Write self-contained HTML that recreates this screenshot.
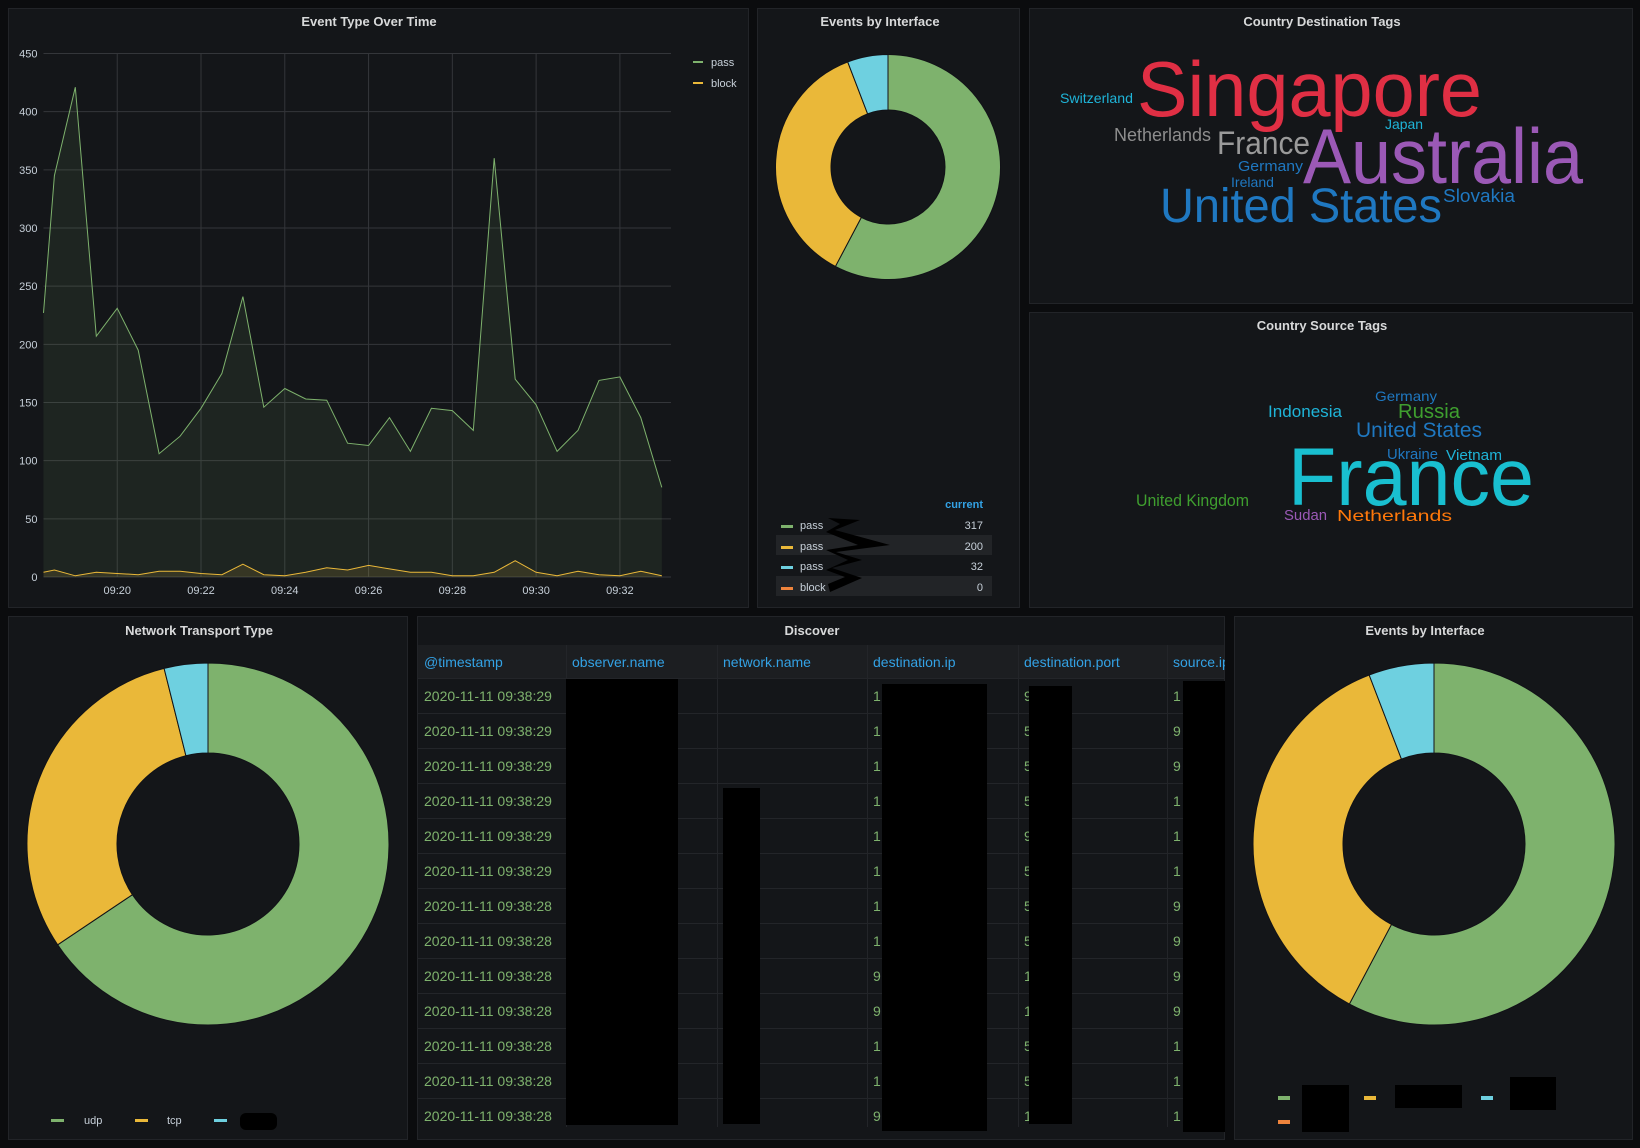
<!DOCTYPE html>
<html><head><meta charset="utf-8">
<style>
html,body{margin:0;padding:0;background:#0b0c0e;}
svg{display:block;font-family:"Liberation Sans",sans-serif;}
.ptitle{fill:#d8d9da;font-size:13px;font-weight:bold;text-anchor:middle;}
.tick{fill:#c7d0d9;font-size:11px;}
.th{fill:#33a2e5;font-size:14px;}
.td{fill:#7eb26d;font-size:14px;}
</style></head>
<body>
<svg id="root" width="1640" height="1148" viewBox="0 0 1640 1148" xmlns="http://www.w3.org/2000/svg">
  <rect x="0" y="0" width="1640" height="1148" fill="#0b0c0e"/>
  <rect x="8.5" y="8.5" width="740" height="599" fill="#141619" stroke="#222428"/>
  <rect x="757.5" y="8.5" width="262" height="599" fill="#141619" stroke="#222428"/>
  <rect x="1029.5" y="8.5" width="603" height="295" fill="#141619" stroke="#222428"/>
  <rect x="1029.5" y="312.5" width="603" height="295" fill="#141619" stroke="#222428"/>
  <rect x="8.5" y="616.5" width="399" height="523" fill="#141619" stroke="#222428"/>
  <rect x="417.5" y="616.5" width="807" height="523" fill="#141619" stroke="#222428"/>
  <rect x="1234.5" y="616.5" width="398" height="523" fill="#141619" stroke="#222428"/>

  <text class="ptitle" x="369" y="26">Event Type Over Time</text>
  <text class="ptitle" x="880" y="26">Events by Interface</text>
  <text class="ptitle" x="1322" y="26">Country Destination Tags</text>
  <text class="ptitle" x="1322" y="330">Country Source Tags</text>
  <text class="ptitle" x="199" y="635">Network Transport Type</text>
  <text class="ptitle" x="812" y="635">Discover</text>
  <text class="ptitle" x="1425" y="635">Events by Interface</text>

  <g id="linechart"></g>
  <g>
    <rect x="693" y="61" width="10" height="2" fill="#7eb26d"/>
    <text class="tick" x="711" y="66" font-size="12">pass</text>
    <rect x="693" y="82" width="10" height="2" fill="#eab839"/>
    <text class="tick" x="711" y="87" font-size="12">block</text>
  </g>

  <g id="donut1"></g>
  <g>
    <text x="983" y="508" fill="#33a2e5" font-size="11" font-weight="bold" text-anchor="end">current</text>
    <rect x="776" y="535" width="216" height="20" fill="#222427"/>
    <rect x="776" y="576" width="216" height="20" fill="#222427"/>
    <rect x="781" y="525" width="12" height="3" fill="#7eb26d"/><text class="tick" x="800" y="529" font-size="12">pass</text><text class="tick" x="983" y="529" font-size="12" text-anchor="end">317</text>
    <rect x="781" y="546" width="12" height="3" fill="#eab839"/><text class="tick" x="800" y="550" font-size="12">pass</text><text class="tick" x="983" y="550" font-size="12" text-anchor="end">200</text>
    <rect x="781" y="566" width="12" height="3" fill="#6ed0e0"/><text class="tick" x="800" y="570" font-size="12">pass</text><text class="tick" x="983" y="570" font-size="12" text-anchor="end">32</text>
    <rect x="781" y="587" width="12" height="3" fill="#ef843c"/><text class="tick" x="800" y="591" font-size="12">block</text><text class="tick" x="983" y="591" font-size="12" text-anchor="end">0</text>
    <path d="M828 518 L860 520 L835 530 L890 545 L836 552 L862 560 L832 568 L862 578 L830 592 L828 584 L845 577 L826 570 L848 560 L826 550 L858 545 L826 532 L840 524 Z" fill="#000"/>
  </g>

  <g>
    <text x="1060" y="103" font-size="14" fill="#1fb4d8" textLength="73" lengthAdjust="spacingAndGlyphs">Switzerland</text>
    <text x="1137" y="116" font-size="78" fill="#e02f44" textLength="345" lengthAdjust="spacingAndGlyphs">Singapore</text>
    <text x="1385" y="129" font-size="14" fill="#1fb4d8" textLength="38" lengthAdjust="spacingAndGlyphs">Japan</text>
    <text x="1114" y="141" font-size="18" fill="#8e8e8e" textLength="97" lengthAdjust="spacingAndGlyphs">Netherlands</text>
    <text x="1217" y="154" font-size="32" fill="#9a9a9a" textLength="93" lengthAdjust="spacingAndGlyphs">France</text>
    <text x="1303" y="183" font-size="78" fill="#9b59b6" textLength="280" lengthAdjust="spacingAndGlyphs">Australia</text>
    <text x="1238" y="171" font-size="15" fill="#1f78c1" textLength="65" lengthAdjust="spacingAndGlyphs">Germany</text>
    <text x="1231" y="187" font-size="14" fill="#1f78c1" textLength="43" lengthAdjust="spacingAndGlyphs">Ireland</text>
    <text x="1160" y="222" font-size="48" fill="#1f78c1" textLength="282" lengthAdjust="spacingAndGlyphs">United States</text>
    <text x="1443" y="202" font-size="18" fill="#1f78c1" textLength="72" lengthAdjust="spacingAndGlyphs">Slovakia</text>
  </g>
  <g>
    <text x="1375" y="401" font-size="14" fill="#1f78c1" textLength="62" lengthAdjust="spacingAndGlyphs">Germany</text>
    <text x="1268" y="417" font-size="17" fill="#1fb4d8" textLength="74" lengthAdjust="spacingAndGlyphs">Indonesia</text>
    <text x="1398" y="418" font-size="20" fill="#3f9f2f" textLength="62" lengthAdjust="spacingAndGlyphs">Russia</text>
    <text x="1356" y="437" font-size="21" fill="#1f78c1" textLength="126" lengthAdjust="spacingAndGlyphs">United States</text>
    <text x="1387" y="459" font-size="15" fill="#1f78c1" textLength="51" lengthAdjust="spacingAndGlyphs">Ukraine</text>
    <text x="1446" y="460" font-size="15" fill="#1fb4d8" textLength="56" lengthAdjust="spacingAndGlyphs">Vietnam</text>
    <text x="1288" y="505" font-size="82" fill="#19bfd0" textLength="246" lengthAdjust="spacingAndGlyphs">France</text>
    <text x="1136" y="506" font-size="17" fill="#3f9f2f" textLength="113" lengthAdjust="spacingAndGlyphs">United Kingdom</text>
    <text x="1284" y="520" font-size="15" fill="#9b59b6" textLength="43" lengthAdjust="spacingAndGlyphs">Sudan</text>
    <text x="1337" y="521" font-size="16" fill="#ff780a" textLength="115" lengthAdjust="spacingAndGlyphs">Netherlands</text>
  </g>

  <g id="donut2"></g>
  <g>
    <rect x="51" y="1119" width="13" height="3" fill="#7eb26d"/><text class="tick" x="84" y="1124" font-size="12">udp</text>
    <rect x="135" y="1119" width="13" height="3" fill="#eab839"/><text class="tick" x="167" y="1124" font-size="12">tcp</text>
    <rect x="214" y="1119" width="13" height="3" fill="#6ed0e0"/>
    <rect x="240" y="1113" width="37" height="17" rx="6" fill="#000"/>
  </g>

  <g id="donut3"></g>
  <g>
    <rect x="1278" y="1096" width="12" height="4" fill="#7eb26d"/>
    <rect x="1302" y="1085" width="47" height="47" fill="#000"/>
    <rect x="1364" y="1096" width="12" height="4" fill="#eab839"/>
    <rect x="1395" y="1085" width="67" height="23" fill="#000"/>
    <rect x="1481" y="1096" width="12" height="4" fill="#6ed0e0"/>
    <rect x="1510" y="1077" width="46" height="33" fill="#000"/>
    <rect x="1278" y="1120" width="12" height="4" fill="#ef843c"/>
  </g>

  <g id="table"></g>
</svg>
<script>
const times = [18.24,18.5,19,19.5,20,20.5,21,21.5,22,22.5,23,23.5,24,24.5,25,25.5,26,26.5,27,27.5,28,28.5,29,29.5,30,30.5,31,31.5,32,32.5,33];
const passValues = [227,345,421,207,231,195,106,121,145,175,241,146,162,153,152,115,113,137,108,145,143,126,360,170,148,108,126,169,172,137,77];
const blockValues = [4,6,1,4,3,2,5,5,3,2,11,2,1,4,8,6,10,7,4,4,1,1,4,14,4,1,5,2,1,5,1];
const yTicks = [0,50,100,150,200,250,300,350,400,450];
const xTickMinutes = [20,22,24,26,28,30,32];
const xTickLabels = ["09:20","09:22","09:24","09:26","09:28","09:30","09:32"];
const xDomain = [18.24,33.22];
const interfaceLabels = ["pass","pass","pass","block"];
const interfaceValues = [317,200,32,0];
const transportLabels = ["udp","tcp","other"];
const transportValues = [656,305,39];
const tableHeaders = ["@timestamp","observer.name","network.name","destination.ip","destination.port","source.ip"];
const tableTimestamps = ["2020-11-11 09:38:29","2020-11-11 09:38:29","2020-11-11 09:38:29","2020-11-11 09:38:29","2020-11-11 09:38:29","2020-11-11 09:38:29","2020-11-11 09:38:28","2020-11-11 09:38:28","2020-11-11 09:38:28","2020-11-11 09:38:28","2020-11-11 09:38:28","2020-11-11 09:38:28","2020-11-11 09:38:28"];
const destIpFirst = ["1","1","1","1","1","1","1","1","9","9","1","1","9"];
const destPortFirst = ["9","5","5","5","9","5","5","5","1","1","5","5","1"];
const srcIpFirst = ["1","9","9","1","1","1","9","9","9","9","1","1","1"];

const NS = "http://www.w3.org/2000/svg";
function mk(tag, attrs, parent){const e=document.createElementNS(NS,tag);for(const k in attrs)e.setAttribute(k,attrs[k]);if(parent)parent.appendChild(e);return e;}

(function(){
  const g=document.getElementById('linechart');
  const x0=43.5,x1=671,y0=577,y1=53.5;
  const xs=m=>x0+(m-xDomain[0])/(xDomain[1]-xDomain[0])*(x1-x0);
  const ys=v=>y0-(v/450)*(y0-y1);
  yTicks.forEach(t=>{
    const l=mk('line',{x1:x0,x2:x1,y1:ys(t),y2:ys(t),stroke:'#34363a','stroke-width':1},g);
    
    
    const tx=mk('text',{x:x0-6,y:ys(t)+4,'text-anchor':'end',class:'tick'},g);
    tx.textContent=t;
    
    
  });
  xTickMinutes.forEach((m,i)=>{
    const l=mk('line',{x1:xs(m),x2:xs(m),y1:y1,y2:y0,stroke:'#34363a','stroke-width':1},g);
    
    
    const tx=mk('text',{x:xs(m),y:594,'text-anchor':'middle',class:'tick'},g);
    tx.textContent=xTickLabels[i];
    
    
  });
  function series(vals,color,fill,name){
    const pts=vals.map((v,i)=>xs(times[i]).toFixed(1)+','+ys(v).toFixed(1));
    const a=mk('path',{d:'M'+xs(times[0])+','+y0+' L'+pts.join(' L')+' L'+xs(times[times.length-1])+','+y0+' Z',fill:fill},g);
    
    
    const l=mk('polyline',{points:pts.join(' '),fill:'none',stroke:color,'stroke-width':1},g);
    
    
  }
  series(passValues,'#7eb26d','rgba(126,178,109,0.1)','pass');
  series(blockValues,'#eab839','rgba(234,184,57,0.12)','block');
})();

const palette=['#7eb26d','#eab839','#6ed0e0','#ef843c'];
function donut(id,vals,cx,cy,ro,ri,names){
  const g=document.getElementById(id);
  const tot=vals.reduce((a,b)=>a+b,0);
  let a=0;
  vals.forEach((v,i)=>{
    if(v<=0)return;
    const a0=a, a1=a+v/tot*2*Math.PI; a=a1;
    const p=(r,t)=>[cx+r*Math.sin(t),cy-r*Math.cos(t)];
    const large=(a1-a0)>Math.PI?1:0;
    const [ox0,oy0]=p(ro,a0),[ox1,oy1]=p(ro,a1),[ix1,iy1]=p(ri,a1),[ix0,iy0]=p(ri,a0);
    const d=`M${ox0},${oy0} A${ro},${ro} 0 ${large} 1 ${ox1},${oy1} L${ix1},${iy1} A${ri},${ri} 0 ${large} 0 ${ix0},${iy0} Z`;
    const s=mk('path',{d:d,fill:palette[i],stroke:'#111217','stroke-width':1},g);
    
    
  });
}
donut('donut1',interfaceValues,888,167,112.5,57,interfaceLabels);
donut('donut2',transportValues,208,844,181,91,transportLabels);
donut('donut3',interfaceValues,1434,844,181,91,interfaceLabels);

(function(){
  const g=document.getElementById('table');
  const colX=[418,566,717,867,1018,1167];
  mk('rect',{x:418,y:645,width:806,height:33,fill:'#1c1e21'},g);
  for(let i=1;i<colX.length;i++){
    const l=mk('line',{x1:colX[i]+0.5,x2:colX[i]+0.5,y1:645,y2:1127,stroke:'#232529'},g);
    
    
  }
  tableHeaders.forEach((h,i)=>{
    const t=mk('text',{x:colX[i]+6,y:667,class:'th'},g);
    t.textContent=h;
    
    
  });
  tableTimestamps.forEach((ts,r)=>{
    const y=678+r*35;
    const l=mk('line',{x1:418,x2:1224,y1:y+0.5,y2:y+0.5,stroke:'#232529'},g);
    
    
    const t=mk('text',{x:424,y:y+23,class:'td'},g);
    t.textContent=ts;
    
    
    [[873,destIpFirst[r]],[1024,destPortFirst[r]],[1173,srcIpFirst[r]]].forEach(([x,c])=>{
      const c1=mk('text',{x:x,y:y+23,class:'td'},g);
      c1.textContent=c;
      
      
    });
  });
  [[566,679,112,446],[723,788,37,336],[882,684,105,447],[1029,686,43,438],[1183,681,48,451]].forEach(b=>{
    const r=mk('rect',{x:b[0],y:b[1],width:b[2],height:b[3],fill:'#000'},g);
    
    
  });
  mk('rect',{x:1225,y:645,width:9,height:490,fill:'#0b0c0e'},g);
})();
</script>
</body></html>
